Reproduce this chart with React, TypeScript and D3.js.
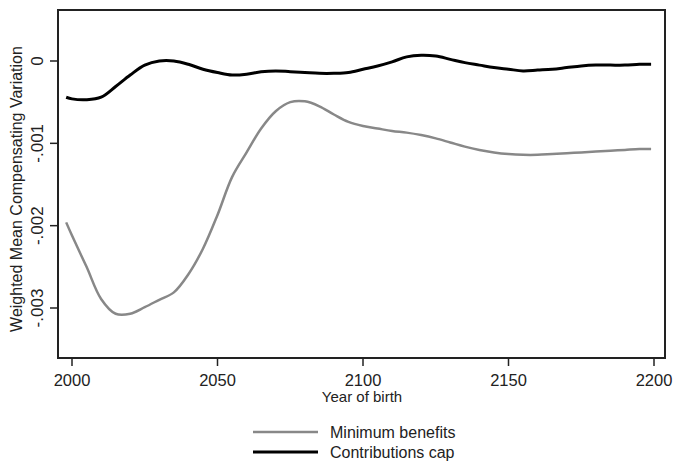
import React from "react";
import * as d3 from "d3";

// Year of birth, sampled every five years
const years = [1998, 2000, 2005, 2010, 2015, 2020, 2025, 2030, 2035, 2040, 2045, 2050, 2055, 2060, 2065, 2070, 2075, 2080, 2085, 2090, 2095, 2100, 2105, 2110, 2115, 2120, 2125, 2130, 2135, 2140, 2145, 2150, 2155, 2160, 2165, 2170, 2175, 2180, 2185, 2190, 2195, 2199];

// Minimum benefits
const minBenefitValues = [-0.00196, -0.00212, -0.0025, -0.00289, -0.00307, -0.00307, -0.00299, -0.0029, -0.00281, -0.00259, -0.00228, -0.00187, -0.00141, -0.00111, -0.00082, -0.00061, -0.0005, -0.00049, -0.00055, -0.00065, -0.00074, -0.00079, -0.00082, -0.00085, -0.00087, -0.0009, -0.00094, -0.00099, -0.00104, -0.00108, -0.00111, -0.00113, -0.00114, -0.00114, -0.00113, -0.00112, -0.00111, -0.0011, -0.00109, -0.00108, -0.00107, -0.00107];

// Contributions cap
const capValues = [-0.00044, -0.00046, -0.00047, -0.00044, -0.00031, -0.00017, -0.00005, 0.0, 0.0, -0.00004, -0.0001, -0.00014, -0.00017, -0.00016, -0.00013, -0.00012, -0.00013, -0.00014, -0.00015, -0.00015, -0.00014, -0.0001, -0.00006, -0.00001, 0.00005, 0.00007, 0.00006, 0.00002, -0.00002, -0.00005, -0.00008, -0.0001, -0.00012, -0.00011, -0.0001, -0.00008, -0.00006, -0.00005, -0.00005, -0.00005, -0.00004, -0.00004];

const xTicks = [2000, 2050, 2100, 2150, 2200];
const yTicks = [0, -0.001, -0.002, -0.003];
const yTickLabels = ["0", "-.001", "-.002", "-.003"];

const seriesNames = ["Minimum benefits", "Contributions cap"];

const W = 677;
const H = 465;
const box = { left: 58, right: 665, top: 10, bottom: 358 };
const font = "'Liberation Sans', Arial, sans-serif";

export default function App() {
  const x = d3.scaleLinear().domain([2000, 2200]).range([72, 654]);
  const y = d3.scaleLinear().domain([0, -0.003]).range([61, 308]);

  const line = d3
    .line<[number, number]>()
    .x((d) => x(d[0]))
    .y((d) => y(d[1]))
    .curve(d3.curveCatmullRom.alpha(0.5));

  const minData = years.map((yr, i) => [yr, minBenefitValues[i]] as [number, number]);
  const capData = years.map((yr, i) => [yr, capValues[i]] as [number, number]);

  const yMid = (box.top + box.bottom) / 2;

  return (
    <svg
      width={W}
      height={H}
      style={{ position: "absolute", left: 0, top: 0, background: "#fff" }}
      fontFamily={font}
    >
      <rect width={W} height={H} fill="#fff" />
      <path d={line(minData) ?? ""} fill="none" stroke="#888" strokeWidth={2.5} />
      <path d={line(capData) ?? ""} fill="none" stroke="#000" strokeWidth={3} />
      <rect
        x={box.left}
        y={box.top}
        width={box.right - box.left}
        height={box.bottom - box.top}
        fill="none"
        stroke="#222"
        strokeWidth={2}
      />
      {xTicks.map((t) => (
        <g key={t}>
          <line x1={x(t)} x2={x(t)} y1={box.bottom} y2={box.bottom + 8} stroke="#222" strokeWidth={1.5} />
          <text x={x(t)} y={386} textAnchor="middle" fontSize={16.5} fill="#222">
            {t}
          </text>
        </g>
      ))}
      <text x={362} y={402} textAnchor="middle" fontSize={15} fill="#222">
        Year of birth
      </text>
      {yTicks.map((t, i) => (
        <g key={t}>
          <line x1={box.left - 8} x2={box.left} y1={y(t)} y2={y(t)} stroke="#222" strokeWidth={1.5} />
          <text
            transform={`translate(43,${y(t)}) rotate(-90)`}
            textAnchor="middle"
            fontSize={17}
            fill="#222"
          >
            {yTickLabels[i]}
          </text>
        </g>
      ))}
      <text
        transform={`translate(22,${yMid + 5}) rotate(-90)`}
        textAnchor="middle"
        fontSize={16}
        fill="#222"
      >
        Weighted Mean Compensating Variation
      </text>
      {seriesNames.map((name, i) => {
        const ly = 432 + i * 20;
        return (
          <g key={name}>
            <line
              x1={253}
              x2={318}
              y1={ly}
              y2={ly}
              stroke={i === 0 ? "#888" : "#000"}
              strokeWidth={i === 0 ? 2.5 : 3}
            />
            <text x={330} y={ly + 6} fontSize={16} fill="#222">
              {name}
            </text>
          </g>
        );
      })}
    </svg>
  );
}
